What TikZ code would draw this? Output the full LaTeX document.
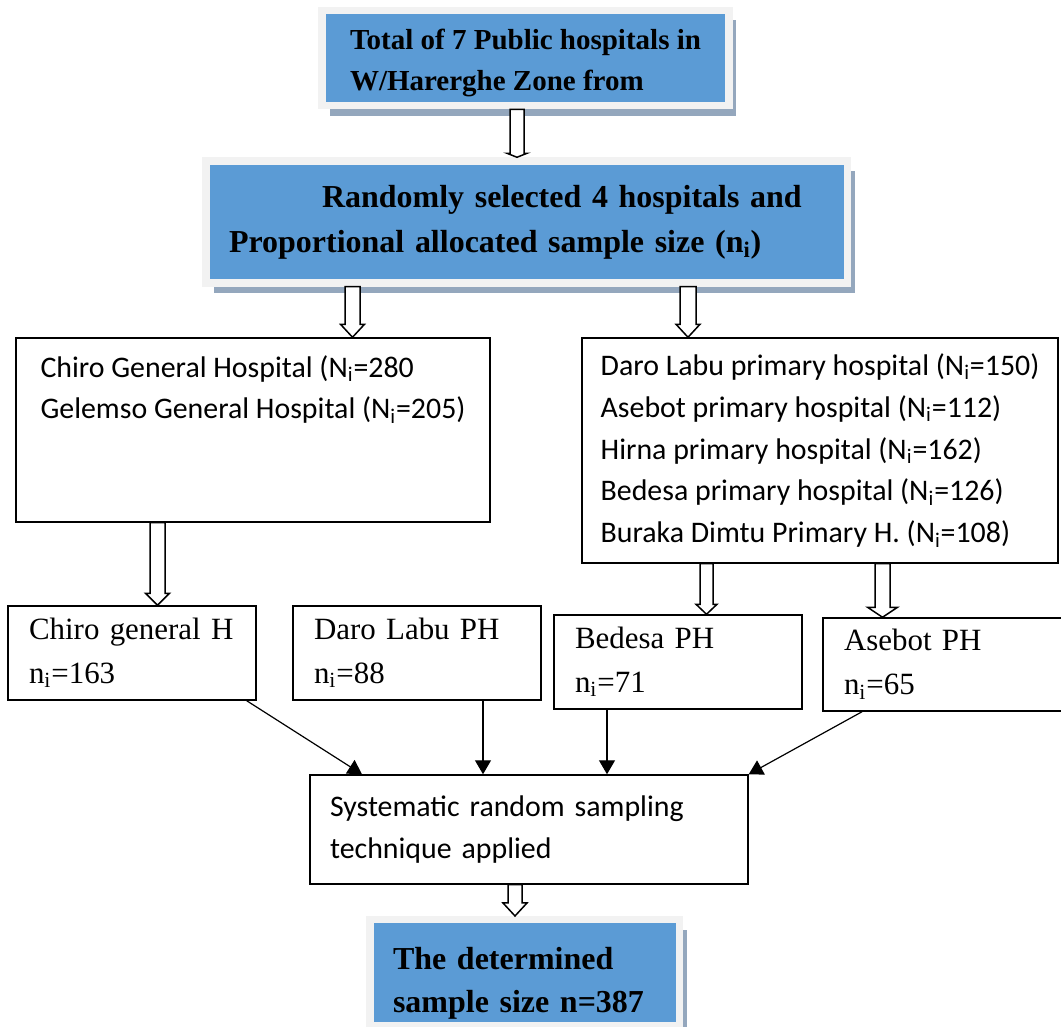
\documentclass[tikz,border=0pt]{standalone}
\usepackage{fontspec}
\setmainfont{Liberation Serif}
\newfontfamily\calibri{Carlito}
\usepackage{xcolor}
\usepackage{tikz}
\usetikzlibrary{arrows.meta,calc,shadows}

\definecolor{boxblue}{RGB}{91,155,213}
\definecolor{framegray}{RGB}{242,242,242}
\definecolor{shadowgray}{RGB}{148,167,189}

\newcommand{\hollowarrow}[5]{%
  \draw[hollowarr] ($(#1)+(-#3,0)$) -- ($(#2)+(-#3,-#5)$) -- ($(#2)+(-#4,-#5)$) -- (#2)
    -- ($(#2)+(#4,-#5)$) -- ($(#2)+(#3,-#5)$) -- ($(#1)+(#3,0)$) -- cycle;}

\begin{document}
\begin{tikzpicture}[x=0.02cm, y=-0.02cm,
			bluebox/.style={fill=boxblue, draw=framegray, line width=0.15cm, align=left,
				drop shadow={shadow xshift=0.15cm, shadow yshift=-0.2cm, fill=shadowgray, opacity=1}},
			list/.style={draw, line width=0.03cm, align=left, font=\calibri\fontsize{17}{23.8}\selectfont},
			site/.style={draw, line width=0.03cm, align=left, minimum width=4.96cm, minimum height=1.88cm, text width=4.12cm, inner xsep=0.42cm, font=\fontsize{17.6}{25}\selectfont},
			arr/.style={-{Triangle[length=0.28cm, width=0.32cm]}, line width=0.024cm},
			hollowarr/.style={draw, fill=white, line width=0.03cm, line join=miter}]
			\useasboundingbox (0,0) rectangle (1061,1027);
			\node[bluebox, minimum width=8.14cm, minimum height=1.91cm, font=\bfseries\fontsize{16.5}{23.2}\selectfont] (top) at (525.5,58) {\rule{0pt}{0.6cm}Total of 7 Public hospitals in\\W/Harerghe Zone from};
			\node[bluebox, minimum width=12.83cm, minimum height=2.44cm, text width=11.91cm, inner xsep=0.46cm, font=\bfseries\fontsize{18.2}{25.6}\selectfont] (sel) at (526.75,222) {\hspace*{1.86cm}Randomly selected 4 hospitals and\\Proportional allocated sample size (n\textsubscript{i})};
			\node[list, minimum width=9.48cm, minimum height=3.68cm] (lbox) at (253,430) {Chiro General Hospital (N\textsubscript{i}=280\\Gelemso General Hospital (N\textsubscript{i}=205)\\[0.88cm]\mbox{}};
			\node[list, minimum width=9.52cm, minimum height=4.5cm] (rbox) at (820,450.5) {Daro Labu primary hospital (N\textsubscript{i}=150)\\Asebot primary hospital (N\textsubscript{i}=112)\\Hirna primary hospital (N\textsubscript{i}=162)\\Bedesa primary hospital (N\textsubscript{i}=126)\\Buraka Dimtu Primary H. (N\textsubscript{i}=108)};
			\node[site] (chiro) at (132,653) {Chiro general H\\n\textsubscript{i}=163};
			\node[site] (daro) at (417,653) {Daro Labu PH\\n\textsubscript{i}=88};
			\node[site] (bedesa) at (678,662) {Bedesa PH\\n\textsubscript{i}=71};
			\node[site, minimum height=1.86cm] (asebot) at (947,664.5) {Asebot PH\\n\textsubscript{i}=65};
			\node[list, minimum width=8.76cm, minimum height=2.18cm, text width=7.96cm, inner xsep=0.4cm] (sys) at (529,829.5) {Systematic random sampling\\technique applied};
			\node[bluebox, minimum width=6.19cm, minimum height=1.98cm, text width=5.27cm, inner xsep=0.46cm, font=\bfseries\fontsize{18.2}{24.5}\selectfont] (final) at (524.75,972.5) {\rule{0pt}{0.88cm}The determined\\sample size n=387};
			\hollowarrow{top.south -| 517,0}{sel.north -| 517,0}{7}{10}{4}
			\hollowarrow{sel.south -| 352.5,0}{lbox.north -| 352.5,0}{7.5}{12}{13}
			\hollowarrow{sel.south -| 688,0}{rbox.north -| 688,0}{8}{12}{13}
			\hollowarrow{lbox.south -| 157.5,0}{chiro.north -| 157.5,0}{7.5}{12}{12}
			\hollowarrow{rbox.south -| 706.5,0}{bedesa.north -| 706.5,0}{6.5}{10.5}{10}
			\hollowarrow{rbox.south -| 882.5,0}{asebot.north -| 882.5,0}{7.5}{15}{10}
			\hollowarrow{sys.south -| 515,0}{final.north -| 515,0}{7}{12}{13}
			\draw[arr] ($(chiro.south east)+(-10,0)$) -- (sys.north -| 362,0);
			\draw[arr] (daro.south -| 483,0) -- (sys.north -| 483,0);
			\draw[arr] (bedesa.south -| 607,0) -- (sys.north -| 607,0);
			\draw[arr] (asebot.south -| 862,0) -- (sys.north east);
		\end{tikzpicture}
\end{document}
